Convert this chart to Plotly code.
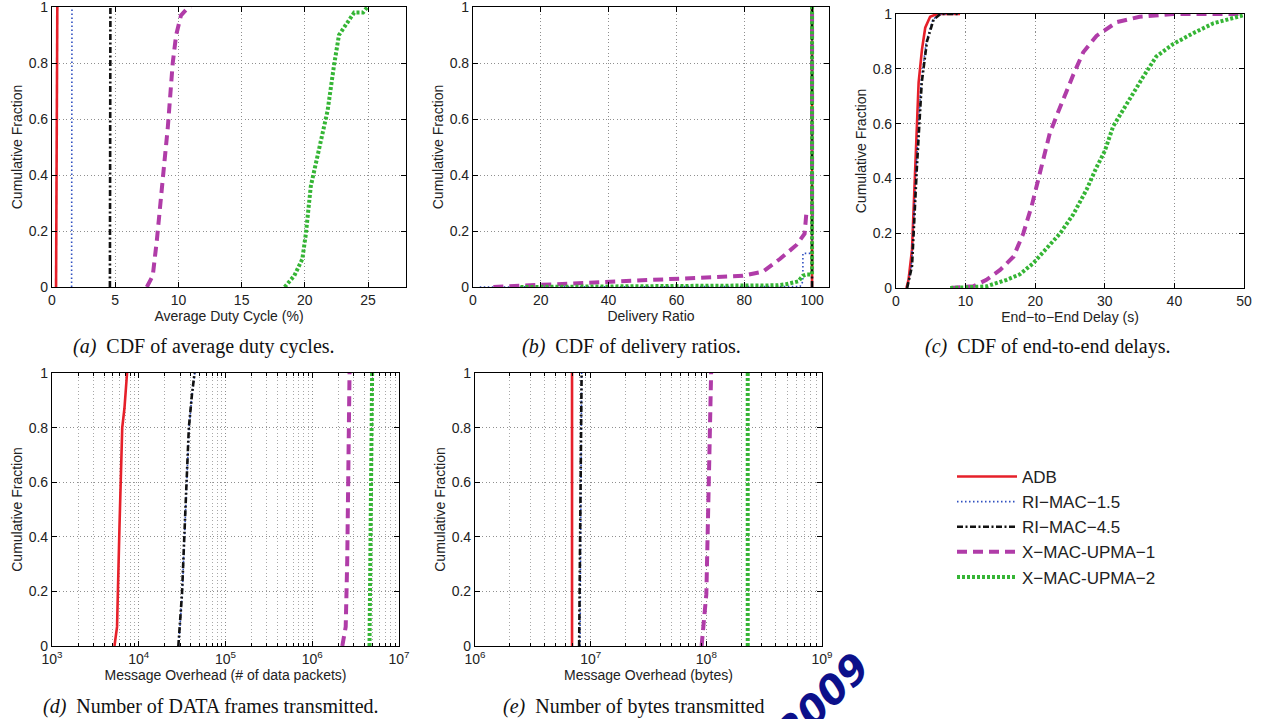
import plotly.graph_objects as go

W, H = 1261, 719

# ---------------- data ----------------
series = ["ADB", "RI\u2212MAC\u22121.5", "RI\u2212MAC\u22124.5",
          "X\u2212MAC-UPMA\u22121", "X\u2212MAC-UPMA\u22122"]

# (a) Average duty cycle (%)
duty_x = {
    "ADB": [0.32, 0.36, 0.40, 0.42],
    "RI1": [1.55, 1.56, 1.57, 1.58],
    "RI4": [4.58, 4.59, 4.60, 4.62],
    "X1": [7.5, 7.97, 8.3, 8.63, 8.9, 9.16, 9.35, 9.55, 9.82, 10.2, 10.6, 11.0],
    "X2": [18.4, 18.8, 19.16, 19.8, 20.08, 20.47, 21.0, 21.4, 21.8, 22.3, 22.7, 23.3, 23.9, 24.6, 24.95],
}
duty_y = {
    "ADB": [0, 0.3, 0.7, 1],
    "RI1": [0, 0.3, 0.7, 1],
    "RI4": [0, 0.3, 0.7, 1],
    "X1": [0, 0.04, 0.17, 0.31, 0.45, 0.57, 0.68, 0.8, 0.9, 0.97, 0.99, 1],
    "X2": [0, 0.02, 0.04, 0.1, 0.19, 0.36, 0.47, 0.55, 0.63, 0.79, 0.9, 0.94, 0.98, 0.98, 1],
}

# (b) Delivery ratio
deliv_x = {
    "ADB": [100, 100],
    "RI1": [2, 40, 80, 96.5, 97.3, 97.3, 99.7, 100, 100],
    "RI4": [100, 100],
    "X1": [6, 10, 13.8, 20.6, 30, 40, 50, 60, 70, 79.6, 85.5, 90.5, 95.4, 97.8, 98.3, 99.8, 100, 100],
    "X2": [14, 40, 60, 80, 90, 92.4, 95.9, 97.3, 98.5, 99.5, 100, 100],
}
deliv_y = {
    "ADB": [0, 1],
    "RI1": [0, 0, 0, 0.002, 0.02, 0.12, 0.12, 0.12, 1],
    "RI4": [0, 1],
    "X1": [0, 0.002, 0.005, 0.01, 0.015, 0.02, 0.025, 0.03, 0.034, 0.04, 0.055, 0.1, 0.15, 0.19, 0.26, 0.26, 0.26, 1],
    "X2": [0, 0.002, 0.003, 0.004, 0.006, 0.01, 0.02, 0.04, 0.045, 0.045, 0.045, 1],
}

# (c) End-to-end delay (s)
delay_x = {
    "ADB": [1.5, 1.8, 2.3, 2.77, 3.25, 3.73, 4.2, 4.9, 5.9, 9.2],
    "RI1": [1.6, 2.2, 2.9, 3.6, 4.35, 5.3, 6.3, 9.0],
    "RI4": [1.6, 2.3, 3.0, 3.7, 4.45, 5.4, 6.4, 9.0],
    "X1": [7.8, 11.1, 13.0, 15.0, 16.9, 18.3, 19.5, 20.5, 21.2, 22.1, 23.1, 24.0, 25.5, 26.9, 28.8, 31.7, 35.0, 39.8, 50.0],
    "X2": [7.8, 13.0, 15.9, 17.8, 19.7, 21.7, 23.6, 25.5, 27.4, 28.8, 30.0, 31.2, 32.6, 34.1, 35.5, 37.4, 39.8, 42.7, 45.6, 50.0],
}
delay_y = {
    "ADB": [0, 0.03, 0.14, 0.44, 0.75, 0.87, 0.95, 0.99, 1, 1],
    "RI1": [0, 0.08, 0.44, 0.75, 0.9, 0.98, 1, 1],
    "RI4": [0, 0.08, 0.44, 0.75, 0.9, 0.98, 1, 1],
    "X1": [0, 0.006, 0.03, 0.067, 0.115, 0.2, 0.3, 0.4, 0.48, 0.565, 0.63, 0.69, 0.78, 0.86, 0.92, 0.97, 0.99, 1, 1],
    "X2": [0, 0.006, 0.03, 0.05, 0.09, 0.146, 0.2, 0.27, 0.36, 0.44, 0.5, 0.59, 0.65, 0.71, 0.77, 0.845, 0.89, 0.93, 0.966, 0.996],
}

# (d) Message overhead (# of data packets)
pkts_x = {
    "ADB": [5250, 5620, 6000, 6450, 6840, 7330],
    "RI1": [28800, 31700, 34700, 38000, 41200, 44300],
    "RI4": [28600, 31500, 34500, 37800, 41000, 44000],
    "X1": [2.22e6, 2.43e6, 2.53e6, 2.64e6, 2.69e6],
    "X2": [4.57e6, 4.68e6, 4.9e6],
}
pkts_y = {
    "ADB": [0, 0.07, 0.44, 0.8, 0.87, 1],
    "RI1": [0, 0.19, 0.5, 0.8, 0.92, 1],
    "RI4": [0, 0.19, 0.5, 0.8, 0.92, 1],
    "X1": [0, 0.07, 0.31, 0.8, 1],
    "X2": [0, 0.44, 1],
}

# (e) Message overhead (bytes)
bytes_x = {
    "ADB": [6.9e6, 6.9e6],
    "RI1": [8.1e6, 8.2e6, 8.35e6],
    "RI4": [7.95e6, 8.1e6, 8.35e6],
    "X1": [9.1e7, 1.0e8, 1.06e8, 1.1e8],
    "X2": [2.28e8, 2.28e8],
}
bytes_y = {
    "ADB": [0, 1],
    "RI1": [0, 0.5, 1],
    "RI4": [0, 0.5, 1],
    "X1": [0, 0.19, 0.68, 1],
    "X2": [0, 1],
}

keys = ["ADB", "RI1", "RI4", "X1", "X2"]

y_ticks = [0, 0.2, 0.4, 0.6, 0.8, 1]
y_ticktext = ["0", "0.2", "0.4", "0.6", "0.8", "1"]
duty_ticks = [0, 5, 10, 15, 20, 25]
deliv_ticks = [0, 20, 40, 60, 80, 100]
delay_ticks = [0, 10, 20, 30, 40, 50]
pkts_ticks = [1e3, 1e4, 1e5, 1e6, 1e7]
pkts_ticktext = ["10<sup>3</sup>", "10<sup>4</sup>", "10<sup>5</sup>", "10<sup>6</sup>", "10<sup>7</sup>"]
bytes_ticks = [1e6, 1e7, 1e8, 1e9]
bytes_ticktext = ["10<sup>6</sup>", "10<sup>7</sup>", "10<sup>8</sup>", "10<sup>9</sup>"]

captions = [
    "<i>(a)</i>  CDF of average duty cycles.",
    "<i>(b)</i>  CDF of delivery ratios.",
    "<i>(c)</i>  CDF of end-to-end delays.",
    "<i>(d)</i>  Number of DATA frames transmitted.",
    "<i>(e)</i>  Number of bytes transmitted",
]

# ---------------- styles ----------------
styles = {
    "ADB": dict(color="#e6202a", width=2.6, dash="solid"),
    "RI1": dict(color="#3050c0", width=1.6, dash="1.5px,2.5px"),
    "RI4": dict(color="#111111", width=2.6, dash="6px,2.5px,2px,2.5px"),
    "X1": dict(color="#b03ca8", width=4, dash="10px,6px"),
    "X2": dict(color="#35b535", width=4, dash="3px,2px"),
}

FONT = "Liberation Sans, Arial, sans-serif"
SERIF = "Liberation Serif, Times New Roman, serif"

fig = go.Figure()

panels = [
    (duty_x, duty_y),
    (deliv_x, deliv_y),
    (delay_x, delay_y),
    (pkts_x, pkts_y),
    (bytes_x, bytes_y),
]

for p, (xs, ys) in enumerate(panels):
    ax = "" if p == 0 else str(p + 1)
    for i, k in enumerate(keys):
        fig.add_trace(go.Scatter(
            x=xs[k], y=ys[k], mode="lines", name=series[i],
            line=styles[k], showlegend=(p == 0), legendgroup=k,
            xaxis="x" + ax, yaxis="y" + ax,
        ))

# pixel boxes: (left, right, top, bottom)
boxes = [
    (52, 406, 7, 287),
    (473, 829, 7, 287),
    (896, 1244, 14, 288),
    (52, 399, 373, 646),
    (475, 822, 373, 646),
]

GRID = "#8f8f8f"
MINOR_GRID = "#a8a8a8"
common_axis = dict(
    showline=True, linecolor="black", linewidth=1.2, mirror="ticks",
    ticks="inside", ticklen=5, tickcolor="black", tickwidth=1,
    showgrid=True, gridcolor=GRID, griddash="1px,2.5px", gridwidth=1,
    zeroline=False, automargin=False, ticklabeloverflow="allow",
    tickfont=dict(family=FONT, size=14, color="#222"),
    title_font=dict(family=FONT, size=14, color="#222"),
)

minor_cfg = dict(dtick="D1", showgrid=True, gridcolor=MINOR_GRID, griddash="1px,2.5px",
                 ticks="inside", ticklen=3, tickcolor="black")

xconf = [
    dict(range=[0, 28], tickvals=duty_ticks, title_text="Average Duty Cycle (%)"),
    dict(range=[0, 105], tickvals=deliv_ticks, title_text="Delivery Ratio"),
    dict(range=[0, 50], tickvals=delay_ticks, title_text="End\u2212to\u2212End Delay (s)"),
    dict(type="log", range=[3, 7], tickvals=pkts_ticks, ticktext=pkts_ticktext,
         title_text="Message Overhead (# of data packets)", minor=minor_cfg),
    dict(type="log", range=[6, 9], tickvals=bytes_ticks, ticktext=bytes_ticktext,
         title_text="Message Overhead (bytes)", minor=minor_cfg),
]

layout = dict(
    width=W, height=H, margin=dict(l=0, r=0, t=0, b=0, autoexpand=False),
    paper_bgcolor="white", plot_bgcolor="white",
    font=dict(family=FONT, color="#222"),
    legend=dict(x=952 / W, y=1 - 459 / H, xanchor="left", yanchor="top",
                font=dict(family=FONT, size=17, color="#222"),
                itemwidth=60, bgcolor="rgba(255,255,255,0)", tracegroupgap=0),
)

for p, (l, r, t, b) in enumerate(boxes):
    ax = "" if p == 0 else str(p + 1)
    xd = dict(common_axis)
    xd.update(xconf[p])
    xd["domain"] = [l / W, r / W]
    xd["anchor"] = "y" + ax
    xd["title_standoff"] = 1
    yd = dict(common_axis)
    yd.update(dict(range=[0, 1], tickvals=y_ticks, ticktext=y_ticktext,
                   title_text="Cumulative Fraction", title_standoff=2))
    yd["domain"] = [1 - b / H, 1 - t / H]
    yd["anchor"] = "x" + ax
    layout["xaxis" + ax] = xd
    layout["yaxis" + ax] = yd

fig.update_layout(**layout)

cap_pos = [(204, 346), (631, 346), (1048, 346), (211, 706), (634, 706)]
for (cx, cy), txt in zip(cap_pos, captions):
    fig.add_annotation(x=cx / W, y=1 - cy / H, xref="paper", yref="paper",
                       text=txt, showarrow=False, xanchor="center", yanchor="middle",
                       font=dict(family=SERIF, size=20, color="#111"))

# scanned stamp partially visible in the corner
fig.add_annotation(x=822 / W, y=1 - 758 / H, xref="paper", yref="paper",
                   text="<b><i>2009</i></b>", showarrow=False, textangle=-45,
                   font=dict(family="DejaVu Sans", size=40, color="#0c108a"))

fig.write_html("out.html", config={"displayModeBar": False},
               post_script="document.body.style.margin='0';document.body.style.overflow='hidden';")
